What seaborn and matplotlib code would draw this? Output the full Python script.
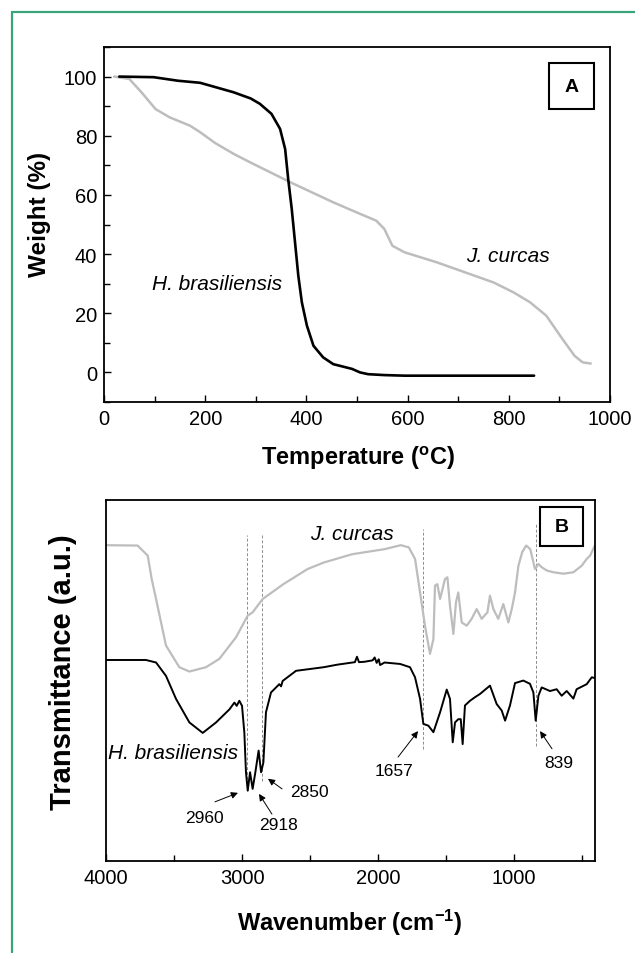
import numpy as np
import pandas as pd
import matplotlib
matplotlib.use("Agg")
import matplotlib.pyplot as plt
from matplotlib.lines import Line2D
from matplotlib.patches import Rectangle
from matplotlib.ticker import MultipleLocator
import seaborn as sns

# ---------------- Panel A: TGA data ----------------
tga_temp_jc = [20, 50, 74, 102, 130, 170, 190, 220, 256, 289, 368, 453, 506, 538, 554, 570, 594,
               658, 714, 770, 810, 842, 874, 906, 930, 946, 962]
tga_wt_jc = [100, 99.2, 94.7, 89, 86.2, 83.4, 81.2, 77.5, 73.9, 71.0, 64.3, 57.5, 53.6, 51.3, 48.5,
             42.8, 40.6, 37.2, 33.8, 30.4, 27, 23.7, 19.2, 11.3, 5.6, 3.4, 3.0]
tga_temp_hb = [30, 98, 146, 190, 256, 290, 308, 331, 348, 358, 364, 371, 377.5, 384, 391, 401,
               414, 433, 453, 490, 506, 522, 554, 594, 850]
tga_wt_hb = [100, 99.8, 98.6, 97.9, 94.7, 92.6, 90.8, 87.4, 82.3, 75.5, 65.4, 55.3, 44, 32.7,
             23.7, 15.8, 9, 5.1, 2.8, 1.2, 0, -0.6, -0.9, -1.1, -1.1]

# ---------------- Panel B: FTIR data ----------------
ftir_wn_jc = [4000, 3768, 3693, 3664, 3632, 3559, 3461, 3387, 3265, 3167, 3044, 2958, 2922,
              2848, 2696, 2518, 2399, 2190, 1952, 1833, 1774, 1728, 1691, 1655, 1618, 1593,
              1581, 1564, 1544, 1508, 1490, 1471, 1446, 1427, 1410, 1385, 1348, 1312, 1275,
              1238, 1196, 1177, 1152, 1116, 1079, 1042, 1017, 993, 968, 940, 911, 881, 846,
              821, 797, 760, 711, 638, 564, 503, 466, 441, 405]
ftir_t_jc = [87.4, 87.3, 84.5, 78, 72.5, 59.6, 53.6, 52.4, 53.6, 55.9, 61.9, 67.9, 68.8,
             72.5, 76.6, 80.8, 82.6, 84.9, 86.3, 87.4, 86.8, 83.6, 74.3, 65.1, 57.3, 61.4,
             76.2, 76.6, 72.5, 78, 78.5, 70.6, 62.8, 71.6, 74.3, 66, 65.1, 67, 69.7,
             67, 68.8, 73.4, 69.7, 67, 71.1, 66, 69.7, 74.3, 81.7, 85.5, 87.3, 86.3, 80.8,
             82.2, 81.3, 80.4, 79.9, 79.5, 79.9, 81.7, 83.6, 84.5, 87.4]
ftir_wn_hb = [4000, 3706, 3632, 3559, 3485, 3387, 3289, 3191, 3093, 3056, 3039, 3020, 3000,
              2983, 2971, 2958, 2941, 2922, 2902, 2878, 2860, 2843, 2824, 2787, 2726, 2713,
              2701, 2603, 2399, 2300, 2170, 2155, 2140, 2101, 2040, 2025, 2010, 1995, 1985,
              1952, 1838, 1765, 1728, 1691, 1667, 1630, 1593, 1544, 1495, 1471, 1451, 1434,
              1410, 1392, 1378, 1361, 1324, 1287, 1250, 1177, 1128, 1091, 1066, 1030, 993,
              932, 883, 858, 841, 821, 797, 736, 687, 650, 613, 564, 540, 466, 429, 405]
ftir_t_hb = [55.6, 55.6, 54.9, 51.2, 44.8, 38.3, 35.4, 38.3, 41.9, 43.8, 42.9, 44.3, 42.9,
             35.5, 24.5, 19.4, 24.5, 19.9, 24.5, 30.5, 24.5, 27.2, 41.1, 46.6, 48.9, 48.3,
             49.8, 52.6, 53.6, 54.3, 55, 56.5, 55, 55.1, 55.5, 56.3, 54.8, 55.8, 54.2,
             54.9, 54.5, 53.6, 50.8, 44.8, 37.9, 37.4, 35.6, 41.1, 47.4, 44.8, 32.8, 38.3,
             39.2, 39.2, 32.3, 43, 44.3, 45.3, 46.2, 48.5, 43.4, 41.6, 38.8, 43, 49.2,
             49.9, 49, 46.6, 38.8, 45.7, 48, 47, 47.5, 45.7, 47, 44.9, 47.5, 48.9, 50.8, 50.6]

# reference lines and peak annotations
ref_lines_wn = [2962, 2852, 1670, 836]
ref_lines_top = [90.2, 90.2, 91.9, 93.3]
ref_lines_bottom = [20, 22, 30.9, 31.9]
peak_labels = ["2960", "2918", "2850", "1657", "839"]
peak_label_wn = [3279, 2735, 2508, 1883, 670]
peak_label_t = [12.1, 9.9, 19.1, 24.9, 27.1]
arrow_tail_wn = [3199, 2780, 2706, 1853, 721]
arrow_tail_t = [16.3, 12.9, 19.9, 28.7, 31.0]
arrow_head_wn = [3030, 2875, 2809, 1706, 809]
arrow_head_t = [18.8, 18.5, 22.7, 35.9, 35.9]

sns.set_style("ticks")
plt.rcParams["font.family"] = ["Liberation Sans", "DejaVu Sans"]
plt.rcParams["mathtext.fontset"] = "custom"
plt.rcParams["mathtext.rm"] = "Liberation Sans"
plt.rcParams["mathtext.bf"] = "Liberation Sans:bold"
for k in ("text.color", "axes.labelcolor", "xtick.color", "ytick.color"):
    plt.rcParams[k] = "black"

fig = plt.figure(figsize=(6.35, 9.54), dpi=100)
W, H = 635, 954

def ax_rect(l, t, r, b):
    return [l / W, 1 - b / H, (r - l) / W, (b - t) / H]

axA = fig.add_axes(ax_rect(104, 48, 610, 403))
axB = fig.add_axes(ax_rect(106, 500.7, 595, 861.7))

GRAY = "#bdbdbd"

# ---------- Panel A ----------
dfA1 = pd.DataFrame({"T": tga_temp_jc, "W": tga_wt_jc})
dfA2 = pd.DataFrame({"T": tga_temp_hb, "W": tga_wt_hb})
sns.lineplot(data=dfA1, x="T", y="W", ax=axA, color=GRAY, lw=1.8, sort=False, estimator=None)
sns.lineplot(data=dfA2, x="T", y="W", ax=axA, color="black", lw=1.9, sort=False, estimator=None)
axA.set_xlim(0, 1000)
axA.xaxis.set_major_locator(MultipleLocator(200))
axA.xaxis.set_minor_locator(MultipleLocator(100))
axA.yaxis.set_minor_locator(MultipleLocator(10))
axA.set_yticks([0, 20, 40, 60, 80, 100])
axA.set_ylim(-10, 110)
axA.tick_params(which="both", direction="in", top=False, right=False, labelsize=14.5, width=1)
axA.tick_params(which="major", length=5, pad=5)
axA.tick_params(which="minor", length=4)
axA.set_xlabel("Temperature ($\\mathregular{^o}$C)", fontsize=17, fontweight="bold")
axA.set_ylabel("Weight (%)", fontsize=17.5, fontweight="bold")
axA.xaxis.set_label_coords(0.502, -0.155)
axA.xaxis.label.set_va("center")
axA.yaxis.set_label_coords(-0.1265, 0.532)
axA.yaxis.label.set_va("center")
axA.text(95, 29.9, "H. brasiliensis", style="italic", fontsize=15, va="center", ha="left")
axA.text(715, 39.4, "J. curcas", style="italic", fontsize=15, va="center", ha="left")
axA.add_patch(Rectangle((0.879, 0.825), 0.089, 0.13, transform=axA.transAxes,
                        fill=False, lw=1.5, ec="black"))
axA.text(0.9235, 0.89, "A", transform=axA.transAxes, ha="center", va="center",
         fontsize=14, fontweight="bold")

# ---------- Panel B ----------
dfB1 = pd.DataFrame({"wn": ftir_wn_jc, "t": ftir_t_jc})
dfB2 = pd.DataFrame({"wn": ftir_wn_hb, "t": ftir_t_hb})
sns.lineplot(data=dfB1, x="wn", y="t", ax=axB, color=GRAY, lw=1.6, sort=False, estimator=None)
sns.lineplot(data=dfB2, x="wn", y="t", ax=axB, color="black", lw=1.4, sort=False, estimator=None)
for xw, yt, yb in zip(ref_lines_wn, ref_lines_top, ref_lines_bottom):
    axB.plot([xw, xw], [yb, yt], ls=(0, (3, 2)), color="#8c8c8c", lw=0.7, zorder=1)
for lab, lx, ly, tx, ty, hx, hy in zip(peak_labels, peak_label_wn, peak_label_t,
                                       arrow_tail_wn, arrow_tail_t, arrow_head_wn, arrow_head_t):
    axB.text(lx, ly, lab, fontsize=12.5, ha="center", va="center")
    axB.annotate("", xy=(hx, hy), xytext=(tx, ty),
                 arrowprops=dict(arrowstyle="-|>", color="black", lw=0.7,
                                 mutation_scale=10, shrinkA=0, shrinkB=0))
axB.set_xlim(4000, 405)
axB.set_ylim(0, 100)
axB.xaxis.set_major_locator(MultipleLocator(1000))
axB.xaxis.set_minor_locator(MultipleLocator(500))
axB.set_yticks([])
axB.tick_params(which="both", direction="in", top=False, right=False, labelsize=14.5, width=1)
axB.tick_params(which="major", length=5, pad=5)
axB.tick_params(which="minor", length=4)
axB.set_xlabel("Wavenumber (cm$\\mathregular{^{-1}}$)", fontsize=17, fontweight="bold")
axB.set_ylabel("Transmittance (a.u.)", fontsize=21, fontweight="bold")
axB.xaxis.set_label_coords(0.499, -0.170)
axB.xaxis.label.set_va("center")
axB.yaxis.set_label_coords(-0.088, 0.524)
axB.yaxis.label.set_va("center")
axB.text(2500, 90.5, "J. curcas", style="italic", fontsize=15, va="center", ha="left")
axB.text(3982, 30, "H. brasiliensis", style="italic", fontsize=15, va="center", ha="left")
axB.add_patch(Rectangle((0.887, 0.872), 0.088, 0.108, transform=axB.transAxes,
                        fill=False, lw=1.5, ec="black"))
axB.text(0.931, 0.926, "B", transform=axB.transAxes, ha="center", va="center",
         fontsize=14, fontweight="bold")

for ax in (axA, axB):
    for sp in ax.spines.values():
        sp.set_visible(True)
        sp.set_linewidth(1.3)
        sp.set_color("black")

# green frame
gx, gy = 11.7 / W, 1 - 12.7 / H
fig.add_artist(Line2D([gx, 1.0], [gy, gy], transform=fig.transFigure, color="#3aa57a", lw=1.6))
fig.add_artist(Line2D([gx, gx], [gy, 0.0], transform=fig.transFigure, color="#3aa57a", lw=1.6))

fig.savefig("out.png", dpi=100)
